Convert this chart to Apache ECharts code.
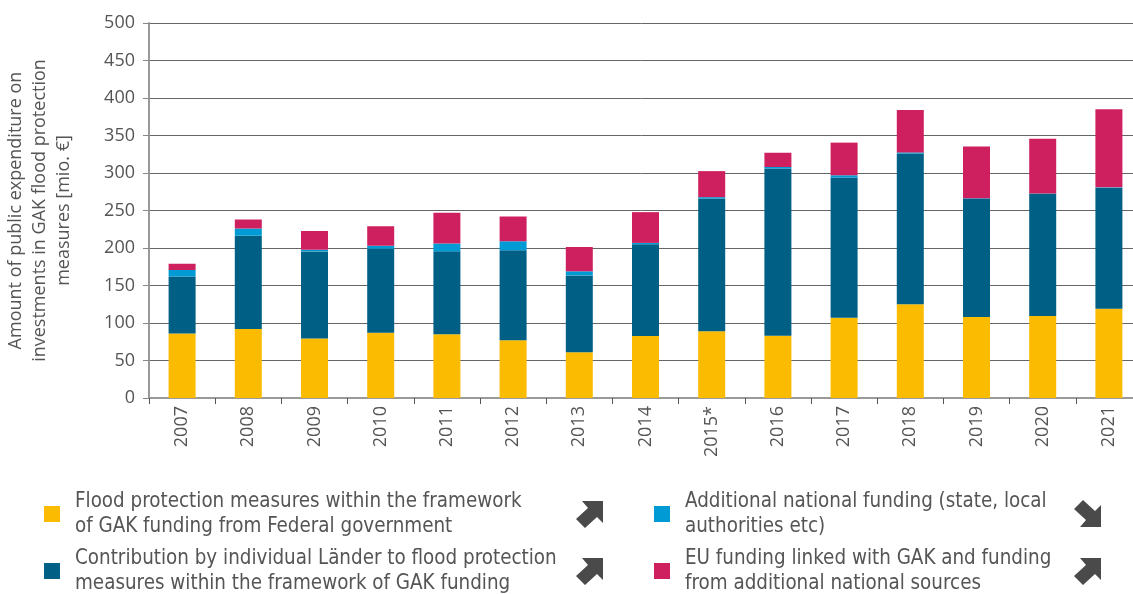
<!DOCTYPE html>
<html><head><meta charset="utf-8">
<script src="https://cdn.jsdelivr.net/npm/echarts@6/dist/echarts.min.js"></script>
<style>html,body{margin:0;padding:0;background:#fff}#c{width:1133px;height:594px}</style>
</head><body><div id="c"></div>
<script>
const years = ['2007','2008','2009','2010','2011','2012','2013','2014','2015*','2016','2017','2018','2019','2020','2021'];
const federal = [86, 92, 79.5, 87, 85, 77, 61, 82.7, 89, 83, 107, 125, 108, 109.3, 119];
const laender = [76, 124.4, 116, 112, 110.6, 120, 102.5, 122.3, 177, 223, 187, 201, 158, 163, 161.4];
const national = [8.7, 9.6, 2.2, 4, 10.4, 12, 5.4, 1.8, 1.8, 2, 3, 1.5, 0.5, 0.5, 0.5];
const eu = [8.3, 12, 25, 26, 41, 33, 32.4, 41, 34.7, 19, 43.5, 56.5, 68.7, 73, 104];
const yTicks = [0, 50, 100, 150, 200, 250, 300, 350, 400, 450, 500];
const names = [
  'Flood protection measures within the framework\nof GAK funding from Federal government',
  'Contribution by individual Länder to flood protection\nmeasures within the framework of GAK funding',
  'Additional national funding (state, local\nauthorities etc)',
  'EU funding linked with GAK and funding\nfrom additional national sources'
];
const colors = ['#FABB00', '#005F85', '#009BD5', '#CE1F5E'];
const seriesData = [federal, laender, national, eu];

const font = "'Liberation Sans Narrow','DejaVu Sans Condensed','Noto Sans',sans-serif";
const chart = echarts.init(document.getElementById('c'));
const legendPos = [[44, 489], [44, 546], [654, 489], [654, 546]];
function arrow(x0, y0, up) {
  const pts = [[6,1],[27,1],[27,23],[21,17],[9,28],[0,19],[12,8]];
  return {
    type: 'polygon',
    shape: { points: pts.map(p => [x0 + p[0], y0 + (up ? p[1] : 28 - p[1])]) },
    style: { fill: '#4a4a4a' }
  };
}
chart.setOption({
  animation: false,
  color: colors,
  grid: { left: 149, top: 23, width: 993, bottom: 196, containLabel: false, outerBoundsMode: 'none' },
  xAxis: {
    type: 'category', data: years,
    axisLine: { lineStyle: { color: '#999', width: 2 } },
    axisTick: { show: true, length: 6, lineStyle: { color: '#555' } },
    axisLabel: { rotate: 90, fontSize: 18, color: '#555', fontFamily: "'Open Sans',sans-serif", margin: 8 }
  },
  yAxis: {
    type: 'value', min: 0, max: 500, interval: 50,
    name: 'Amount of public expenditure on\ninvestments in GAK flood protection\nmeasures [mio. €]',
    nameLocation: 'middle', nameRotate: 90, nameGap: 73,
    nameTextStyle: { fontSize: 18, color: '#555', fontFamily: "'Open Sans',sans-serif", lineHeight: 24 },
    axisLine: { show: true, lineStyle: { color: '#999', width: 2 } },
    axisTick: { show: true, length: 6, lineStyle: { color: '#888' } },
    axisLabel: { fontSize: 18, color: '#555', fontFamily: "'Open Sans',sans-serif", margin: 14,
      formatter: v => yTicks.includes(v) ? String(v) : '' },
    splitLine: { lineStyle: { color: '#666', width: 1 } }
  },
  legend: names.map((n, i) => ({
    data: [n], left: legendPos[i][0], top: legendPos[i][1], orient: 'vertical', padding: 0,
    itemWidth: 16, itemHeight: 16, icon: 'rect', selectedMode: false,
    textStyle: { fontSize: 20.4, color: '#555', fontFamily: font, lineHeight: 25, padding: [0, 0, 0, 10] }
  })),
  series: seriesData.map((d, i) => ({
    type: 'bar', name: names[i], stack: 'total', data: d, barWidth: 27,
    itemStyle: { color: colors[i] }
  })),
  graphic: [arrow(576, 500, true), arrow(576, 557, true), arrow(1074, 500, false), arrow(1074, 557, true)]
});
</script></body></html>
